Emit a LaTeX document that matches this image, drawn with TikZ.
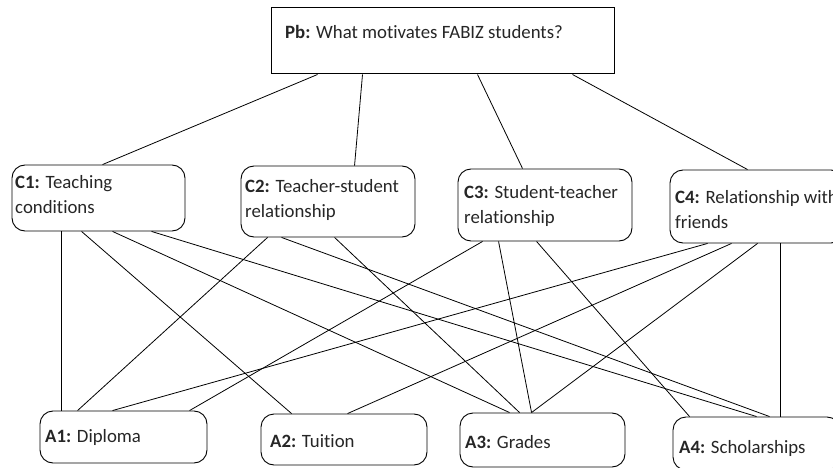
\documentclass[tikz,border=0pt]{standalone}
\usepackage{fontspec}
\setmainfont[Ligatures=NoCommon]{Carlito}
\begin{document}
\begin{tikzpicture}[x=1pt,y=-1pt,
  box/.style={draw, line width=0.9pt, rounded corners=13pt, inner sep=0pt},
  pbbox/.style={draw, line width=1pt, inner sep=0pt},
  lbl/.style={anchor=base west, inner sep=0pt, font=\fontsize{18.8}{25}\selectfont, align=left, text=black!85},
  link/.style={line width=0.8pt}]
\useasboundingbox (0,0) rectangle (833,468);
\clip (0,0) rectangle (833,468);
\fill[white] (0,0) rectangle (833,468);

% problem box
\node[pbbox, minimum width=343pt, minimum height=66pt] (Pb) at (442.5,41) {};
\node[lbl] (tPb) at (285,39) {\textbf{Pb:} What motivates FABIZ students?};

% criteria (label anchors sit on the last text line)
\node[box, minimum width=173pt, minimum height=66pt] (C1) at (98.5,198) {};
\node[box, minimum width=174pt, minimum height=71pt] (C2) at (328,201.5) {};
\node[box, minimum width=174pt, minimum height=72pt] (C3) at (545,205) {};
\node[box, minimum width=174pt, minimum height=73pt] (C4) at (757,206.5) {};
\node[lbl] (tC1) at (15,214) {\textbf{C1:} Teaching\\conditions};
\node[lbl] (tC2) at (245,218) {\textbf{C2:} Teacher-student\\relationship};
\node[lbl] (tC3) at (464,223) {\textbf{C3:} Student-teacher\\relationship};
\node[lbl] (tC4) at (675,229) {\textbf{C4:} Relationship with\\friends};

% alternatives
\node[box, minimum width=167pt, minimum height=52pt] (A1) at (123.5,437) {};
\node[box, minimum width=166pt, minimum height=51pt] (A2) at (344,439.5) {};
\node[box, minimum width=165pt, minimum height=54pt] (A3) at (542.5,440) {};
\node[box, minimum width=167pt, minimum height=53pt] (A4) at (756.5,443.5) {};
\node[lbl] (tA1) at (45,442) {\textbf{A1:} Diploma};
\node[lbl] (tA2) at (270,447) {\textbf{A2:} Tuition};
\node[lbl] (tA3) at (465,448) {\textbf{A3:} Grades};
\node[lbl] (tA4) at (679,453) {\textbf{A4:} Scholarships};

% problem to criteria
\draw[link] ([xshift=47pt]Pb.south west) -- ([xshift=91pt]C1.north west);
\draw[link] ([xshift=92pt]Pb.south west) -- ([xshift=114pt]C2.north west);
\draw[link] ([xshift=207pt]Pb.south west) -- ([xshift=65pt]C3.north west);
\draw[link] ([xshift=302pt]Pb.south west) -- ([xshift=78pt]C4.north west);

% criteria to alternatives
\draw[link] ([xshift=50pt]C1.south west) -- ([xshift=22pt]A1.north west);
\draw[link] ([xshift=70pt]C1.south west) -- ([xshift=31pt]A2.north west);
\draw[link] ([xshift=101pt]C1.south west) -- ([xshift=50pt]A3.north west);
\draw[link] ([xshift=140pt]C1.south west) -- ([xshift=84pt]A4.north west);

\draw[link] ([xshift=27pt]C2.south west) -- ([xshift=38pt]A1.north west);
\draw[link] ([xshift=41pt]C2.south west) -- ([xshift=97pt]A4.north west);
\draw[link] ([xshift=94pt]C2.south west) -- ([xshift=60pt]A3.north west);

\draw[link] ([xshift=25pt]C3.south west) -- ([xshift=150pt]A1.north west);
\draw[link] ([xshift=41pt]C3.south west) -- ([xshift=72pt]A3.north west);
\draw[link] ([xshift=79pt]C3.south west) -- ([xshift=17pt]A4.north west);

\draw[link] ([xshift=38pt]C4.south west) -- ([xshift=73pt]A1.north west);
\draw[link] ([xshift=62pt]C4.south west) -- ([xshift=87pt]A2.north west);
\draw[link] ([xshift=88pt]C4.south west) -- ([xshift=72pt]A3.north west);
\draw[link] ([xshift=111pt]C4.south west) -- ([xshift=108pt]A4.north west);
\end{tikzpicture}
\end{document}
